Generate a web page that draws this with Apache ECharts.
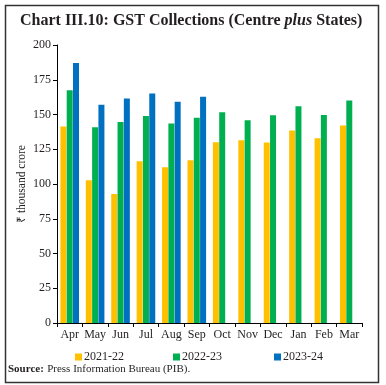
<!DOCTYPE html>
<html><head><meta charset="utf-8">
<script src="https://cdn.jsdelivr.net/npm/echarts@6/dist/echarts.min.js"></script>
<style>html,body{margin:0;padding:0;background:#fff}#c{width:386px;height:385px}</style>
</head><body><div id="c"></div>
<script>
const categories = ['Apr','May','Jun','Jul','Aug','Sep','Oct','Nov','Dec','Jan','Feb','Mar'];
const s2021 = [141.4, 102.7, 92.8, 116.4, 112.0, 117.0, 130.1, 131.5, 129.8, 138.4, 133.0, 142.1];
const s2022 = [167.5, 140.9, 144.6, 148.9, 143.6, 147.7, 151.7, 145.9, 149.5, 155.9, 149.6, 160.1];
const s2023 = [187.0, 157.1, 161.5, 165.1, 159.1, 162.7, null, null, null, null, null, null];
const seriesNames = ['2021-22','2022-23','2023-24'];
const colors = ['#FFC000','#00B050','#0070C0'];
const yTicks = {min:0, max:200, interval:25};
const FONT = 'Liberation Serif';

const chart = echarts.init(document.getElementById('c'), null, {renderer:'canvas'});
const data = [s2021, s2022, s2023];
const legendLeft = [70, 168, 269];
chart.setOption({
  animation:false,
  textStyle:{fontFamily:FONT},
  title:{
    left:15, top:8,
    text:'{a|Chart III.10: GST Collections (Centre }{b|plus}{a| States)}',
    textStyle:{rich:{
      a:{fontFamily:FONT, fontSize:16, fontWeight:'bold', color:'#231f20'},
      b:{fontFamily:FONT, fontSize:16, fontStyle:'italic', color:'#231f20'}
    }}
  },
  legend: seriesNames.map((n,i)=>({
    data:[n], left:legendLeft[i], top:346, itemWidth:7, itemHeight:7, itemGap:4,
    icon:'rect', textStyle:{fontFamily:FONT, fontSize:12, color:'#231f20', padding:[0,0,0,-3]}
  })),
  grid:{left:57, right:24, top:45, bottom:62},
  xAxis:{
    type:'category', data:categories,
    axisLine:{lineStyle:{color:'#000', width:1}},
    axisTick:{show:true, length:4, lineStyle:{color:'#000'}},
    axisLabel:{fontFamily:FONT, fontSize:12, color:'#231f20', margin:6, interval:0}
  },
  yAxis:{
    type:'value', min:yTicks.min, max:yTicks.max, interval:yTicks.interval,
    name:'₹ thousand crore', nameLocation:'middle', nameGap:29, nameMoveOverlap:false,
    nameTextStyle:{fontFamily:FONT, fontSize:11.5, color:'#231f20'},
    axisLine:{show:true, lineStyle:{color:'#000', width:1}},
    axisTick:{show:true, length:4, lineStyle:{color:'#000'}},
    axisLabel:{fontFamily:FONT, fontSize:12, color:'#231f20', margin:6},
    splitLine:{show:false}
  },
  series: seriesNames.map((n,i)=>({
    name:n, type:'bar', data:data[i], barWidth:6, barGap:'5%',
    itemStyle:{color:colors[i]}
  })),
  graphic:[
    {type:'rect', shape:{x:5.5, y:5.5, width:373, height:377}, style:{fill:'none', stroke:'#333', lineWidth:1.5}, silent:true},
    {type:'text', left:8, top:363, style:{
      text:'{b|Source:} {a|Press Information Bureau (PIB).}',
      rich:{b:{fontFamily:FONT, fontSize:11, fontWeight:'bold', fill:'#231f20'}, a:{fontFamily:FONT, fontSize:11, fill:'#231f20'}}
    }}
  ]
});
</script></body></html>
